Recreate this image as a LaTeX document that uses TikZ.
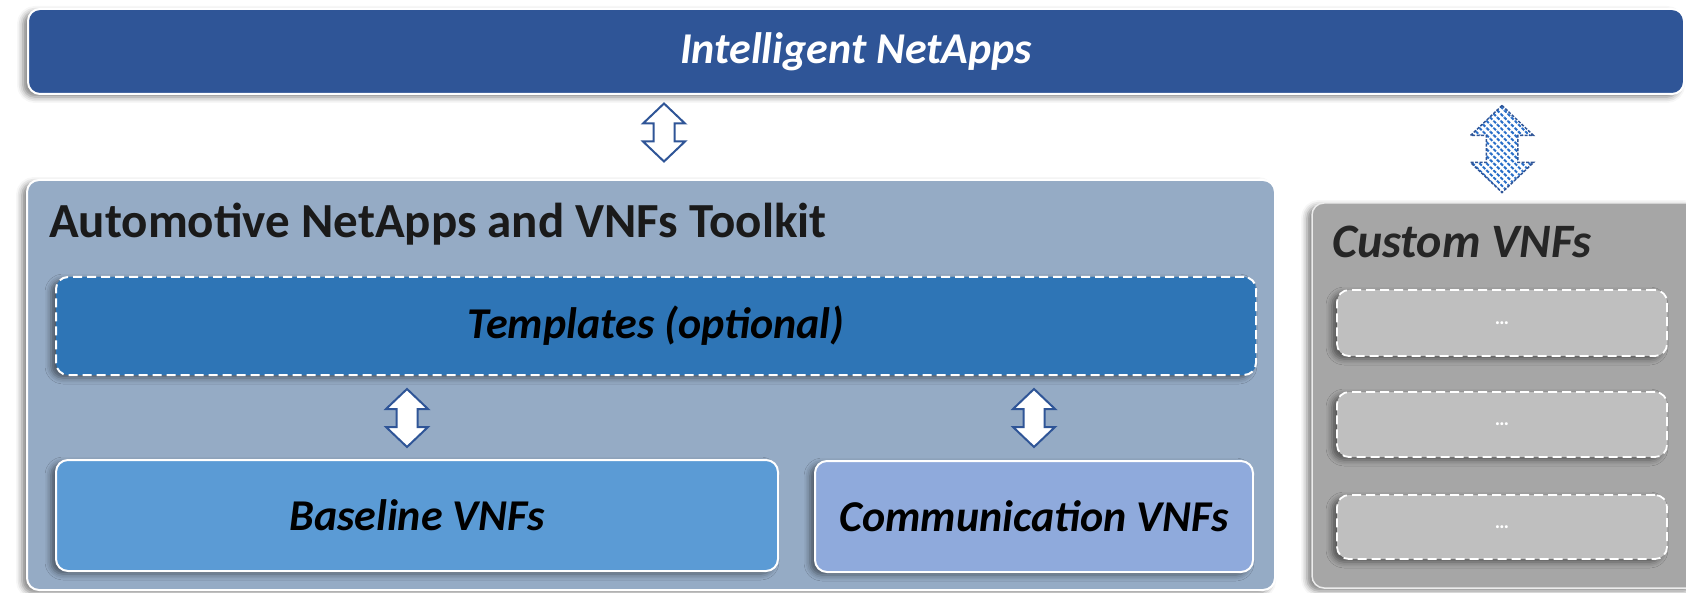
\documentclass[tikz,border=0pt]{standalone}
\usepackage{fontspec}
\setmainfont{Carlito}
\usetikzlibrary{shadows.blur,patterns.meta}

\definecolor{topblue}{RGB}{47,85,151}
\definecolor{toolkit}{RGB}{149,171,197}
\definecolor{tmpl}{RGB}{46,117,182}
\definecolor{baseblue}{RGB}{91,155,213}
\definecolor{comm}{RGB}{143,170,220}
\definecolor{customgray}{RGB}{166,166,166}
\definecolor{customin}{RGB}{191,191,191}
\definecolor{titletext}{RGB}{26,26,26}
\definecolor{hatchblue}{RGB}{40,110,200}

\tikzset{
  box/.style={draw=white, line width=2pt, rounded corners=12pt,
    blur shadow={shadow xshift=-5pt, shadow yshift=-3pt, shadow blur radius=6pt, shadow opacity=50},
    inner sep=0pt},
  dashbox/.style={box, dash pattern=on 9pt off 5pt},
  lbl/.style={font=\fontsize{44}{50}\selectfont\bfseries\itshape, text=black},
  heading/.style={font=\fontsize{49}{56}\selectfont\bfseries, text=titletext, anchor=base west, inner sep=0pt},
  blockarrow/.pic={
    \path[pic actions] (0,-29) -- (21,-9) -- (10.5,-9) -- (10.5,9) -- (21,9) -- (0,29)
      -- (-21,9) -- (-10.5,9) -- (-10.5,-9) -- (-21,-9) -- cycle;
  },
  hollowarrow/.style={draw=topblue, fill=white, line width=2pt, line join=miter},
  hatcharrow/.style={draw=topblue, dash pattern=on 3pt off 1.5pt, line width=1.5pt, preaction={fill=white},
    pattern={Lines[angle=-45,distance=5pt,line width=2pt]}, pattern color=hatchblue}
}

\begin{document}
\begin{tikzpicture}[x=1pt,y=-1pt]
\useasboundingbox (0,0) rectangle (1686,593);
\clip (0,0) rectangle (1686,593);

% top bar
\node[box, fill=topblue, minimum width=1656pt, minimum height=85pt,
      font=\fontsize{44}{50}\selectfont\bfseries\itshape, text=white] (tb) at (856,51.5) {Intelligent NetApps};

% toolkit container
\node[box, fill=toolkit, minimum width=1248pt, minimum height=410pt] (tk) at (651,385) {};
\node[heading] (tktitle) at (49,238) {Automotive NetApps and VNFs Toolkit};

% templates
\node[dashbox, fill=tmpl, minimum width=1200pt, minimum height=98pt, lbl] (tp) at (656,326) {Templates (optional)};

% baseline & communication
\node[box, fill=baseblue, minimum width=722pt, minimum height=111pt, lbl] (bl) at (417,515.5) {Baseline VNFs};
\node[box, fill=comm, minimum width=438pt, minimum height=111pt, lbl] (cm) at (1034,516.5) {Communication VNFs};

% custom VNFs
\node[box, draw=white!85!gray, line width=1.5pt, fill=customgray, minimum width=388pt, minimum height=385pt] (cu) at (1506,395.5) {};
\node[heading, font=\fontsize{48}{56}\selectfont\bfseries\itshape, text=black!85] (cutitle) at (1332,258) {Custom VNFs};
\node[dashbox, fill=customin, minimum width=330pt, minimum height=66pt, line width=1.8pt,
      font=\fontsize{20}{24}\selectfont\bfseries, text=white] (c1) at (1502,323) {…};
\node[dashbox, fill=customin, minimum width=330pt, minimum height=65pt, line width=1.8pt,
      font=\fontsize{20}{24}\selectfont\bfseries, text=white] (c2) at (1502,424.5) {…};
\node[dashbox, fill=customin, minimum width=330pt, minimum height=64pt, line width=1.8pt,
      font=\fontsize{20}{24}\selectfont\bfseries, text=white] (c3) at (1502,527) {…};

% block arrows
\coordinate (a1) at (664,132.5);
\coordinate (a2) at (1502,149);
\coordinate (a3) at (407,418);
\coordinate (a4) at (1034,418);
\pic[hollowarrow] at (a1) {blockarrow};
\pic[hatcharrow, scale=1.5] at (a2) {blockarrow};
\pic[hollowarrow] at (a3) {blockarrow};
\pic[hollowarrow] at (a4) {blockarrow};
\end{tikzpicture}
\end{document}
